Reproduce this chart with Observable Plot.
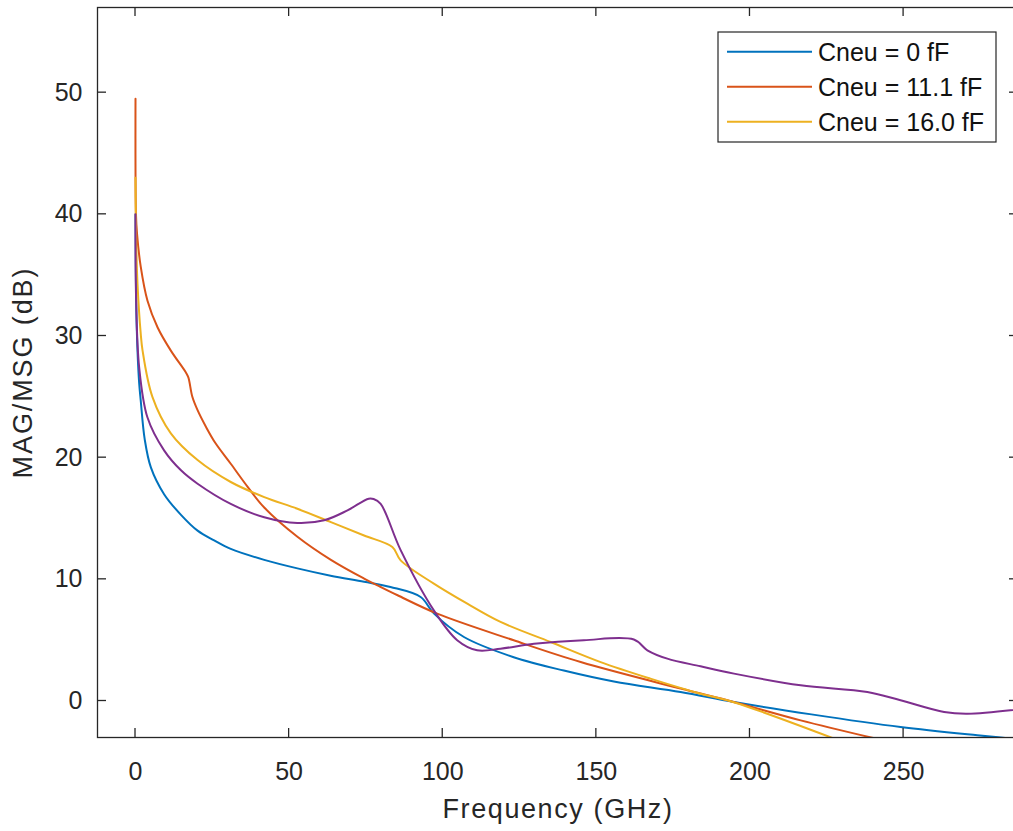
<!DOCTYPE html>
<html><head><meta charset="utf-8">
<script src="https://cdn.jsdelivr.net/npm/d3@7"></script>
<script src="https://cdn.jsdelivr.net/npm/@observablehq/plot@0.6"></script>
<style>html,body{margin:0;padding:0;background:#fff;overflow:hidden}</style>
</head><body><div id="chart"></div>
<script>
// Series labels and colours (purple trace has no legend entry)
const seriesNames = ["Cneu = 0 fF", "Cneu = 11.1 fF", "Cneu = 16.0 fF", "reference"];
const seriesColors = ["#0072BD", "#D95319", "#EDB120", "#7E2F8E"];
const inLegend = [true, true, true, false];

// Frequency (GHz) and MAG/MSG (dB)
const freqBlue = [0, 0.2, 0.65, 1.2, 1.7, 3, 5, 9.3, 14.8, 20.2, 25.6, 31, 41.9, 52.7, 63.5, 74.4, 83, 92.8, 97.1, 106.9, 123.1, 139.4, 155.7, 177.4, 194.8, 220, 249, 274, 292];
const gainBlue = [40, 33, 28.8, 26.1, 24.7, 21.5, 19.2, 17.0, 15.3, 14.0, 13.2, 12.5, 11.6, 10.9, 10.3, 9.8, 9.37, 8.55, 7.2, 5.26, 3.6, 2.5, 1.6, 0.74, -0.08, -1.1, -2.14, -2.82, -3.25];

const freqRed = [0, 0.15, 0.5, 1.7, 3.9, 7.2, 11.5, 16.4, 17.2, 18.5, 20.2, 23, 26, 31, 36.5, 41.9, 52.7, 63.6, 74.4, 79.8, 85.3, 98.2, 123.1, 144.9, 177.4, 194.7, 216.5, 242];
const gainRed = [49.5, 40, 38.4, 35.7, 32.9, 30.7, 28.8, 27.0, 26.6, 25.0, 23.9, 22.5, 21.2, 19.5, 17.6, 15.9, 13.5, 11.6, 10.06, 9.37, 8.69, 7.18, 4.99, 3.2, 1.02, -0.08, -1.59, -3.15];

const freqYellow = [0, 0.2, 0.65, 1.7, 2.3, 5.5, 11.5, 20.2, 31, 41.9, 52.7, 63.6, 74.4, 83.6, 86.3, 97.1, 108, 118.8, 135.1, 151.4, 167.6, 183.9, 194.7, 228];
const gainYellow = [43, 38, 34.3, 30.2, 28.8, 25.0, 22.0, 19.8, 18.0, 16.76, 15.8, 14.7, 13.6, 12.65, 11.56, 9.65, 8.0, 6.5, 4.85, 3.2, 1.84, 0.6, -0.1, -3.15];

const freqPurple = [0, 0.2, 1.2, 3.9, 9.3, 14.8, 20.2, 31, 41.9, 52.7, 61.4, 69, 75.9, 77.5, 79.8, 86.3, 97.1, 104.7, 111.2, 118.8, 129.7, 145.9, 162.2, 166.6, 173.1, 183.9, 194.8, 216.5, 238.2, 249, 263.2, 270.8, 292];
const gainPurple = [40, 33, 27.4, 23.3, 20.6, 18.96, 17.86, 16.2, 15.1, 14.63, 14.85, 15.67, 16.63, 16.6, 16.2, 12.4, 7.45, 5.0, 4.17, 4.3, 4.7, 5.0, 5.05, 4.17, 3.48, 2.85, 2.25, 1.29, 0.74, 0.06, -0.9, -1.04, -0.55];

const xTicks = [0, 50, 100, 150, 200, 250];
const yTicks = [0, 10, 20, 30, 40, 50];
const xLabel = "Frequency (GHz)";
const yLabel = "MAG/MSG (dB)";

const seriesFreq = [freqBlue, freqRed, freqYellow, freqPurple];
const seriesGain = [gainBlue, gainRed, gainYellow, gainPurple];
const tables = seriesFreq.map((fs, i) => fs.map((f, j) => ({f, g: seriesGain[i][j], s: seriesNames[i]})));

const axisColor = "#262626";
const tickLen = 9;

// inward ticks on all four sides of the box, placed through the plot's scales
function innerTicks(index, scales, values, dims) {
  const x0 = dims.marginLeft, x1 = dims.width - dims.marginRight;
  const y0 = dims.marginTop, y1 = dims.height - dims.marginBottom;
  const g = d3.create("svg:g").attr("stroke", axisColor).attr("stroke-width", 1.3).attr("fill", "none");
  xTicks.forEach(t => {
    const px = scales.x(t);
    g.append("line").attr("x1", px).attr("x2", px).attr("y1", y1).attr("y2", y1 - tickLen);
    g.append("line").attr("x1", px).attr("x2", px).attr("y1", y0).attr("y2", y0 + tickLen);
  });
  yTicks.forEach(t => {
    const py = scales.y(t);
    g.append("line").attr("x1", x0).attr("x2", x0 + tickLen).attr("y1", py).attr("y2", py);
    g.append("line").attr("x1", x1).attr("x2", x1 - tickLen).attr("y1", py).attr("y2", py);
  });
  return g.node();
}

function legendMark(index, scales, values, dims) {
  const right = dims.width - dims.marginRight - 22;
  const top = dims.marginTop + 25;
  const w = 278, rowH = 35, h = 110;
  const left = right - w;
  const g = d3.create("svg:g").attr("text-anchor", "start");
  g.append("rect").attr("x", left).attr("y", top).attr("width", w).attr("height", h)
    .attr("fill", "white").attr("stroke", axisColor).attr("stroke-width", 1.2);
  const entries = seriesNames.map((n, i) => ({n, c: seriesColors[i], show: inLegend[i]})).filter(d => d.show);
  entries.forEach((e, i) => {
    const cy = top + 19.7 + i * rowH;
    g.append("line").attr("x1", left + 9).attr("x2", left + 94).attr("y1", cy).attr("y2", cy)
      .attr("stroke", e.c).attr("stroke-width", 2);
    g.append("text").attr("x", left + 100).attr("y", cy).attr("dy", "0.36em")
      .attr("text-anchor", "start").attr("font-size", 25).attr("fill", "#111").text(e.n);
  });
  return g.node();
}

const chart = Plot.plot({
  width: 1013,
  height: 831,
  marginLeft: 97,
  marginTop: 7,
  marginBottom: 94,
  marginRight: -5,
  style: {fontFamily: "'Liberation Sans', Arial, sans-serif", fontSize: "25px", color: axisColor, background: "white", overflow: "hidden"},
  x: {domain: [-12.37, 287.4]},
  y: {domain: [-3, 57]},
  marks: [
    ...tables.map((t, i) => Plot.line(t, {x: "f", y: "g", stroke: seriesColors[i], strokeWidth: 2, curve: "catmull-rom", clip: true})),
    Plot.frame({stroke: axisColor, strokeWidth: 1.3}),
    innerTicks,
    Plot.axisX({ticks: xTicks, anchor: "bottom", tickSize: 0, tickPadding: 25, label: null}),
    Plot.axisY({ticks: yTicks, anchor: "left", tickSize: 0, tickPadding: 15, label: null}),
    Plot.text([xLabel], {text: d => d, frameAnchor: "bottom", textAnchor: "middle", dy: 72, lineAnchor: "middle", fontSize: 27, fill: axisColor}),
    Plot.text([yLabel], {text: d => d, frameAnchor: "left", textAnchor: "middle", dx: -74, rotate: -90, lineAnchor: "middle", fontSize: 27, fill: axisColor}),
    legendMark
  ]
});
// widen axis-title letter spacing to match the reference
d3.select(chart).selectAll("text").filter(function () { return this.textContent === xLabel; }).style("letter-spacing", "1.6px");
d3.select(chart).selectAll("text").filter(function () { return this.textContent === yLabel; }).style("letter-spacing", "1.9px");
document.getElementById("chart").appendChild(chart);
</script>
</body></html>
